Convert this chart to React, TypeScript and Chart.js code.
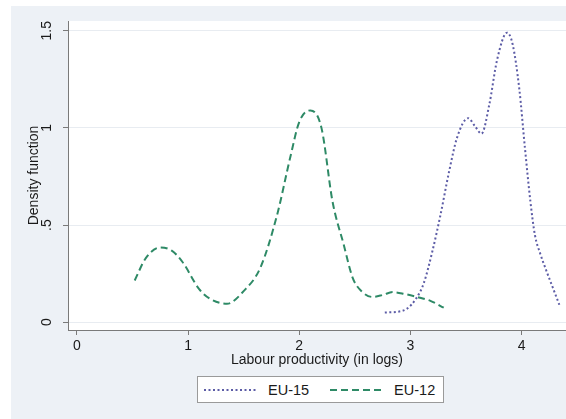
import React, { useEffect, useRef } from "react";
import { Chart, registerables } from "chart.js";

Chart.register(...registerables);

const eu15X = [2.77, 2.9, 2.97, 3.05, 3.12, 3.2, 3.27, 3.35, 3.42, 3.52, 3.58, 3.64, 3.71, 3.78, 3.87, 3.92, 3.98, 4.03, 4.08, 4.12, 4.17, 4.22, 4.28, 4.34];
const eu15Y = [0.05, 0.055, 0.07, 0.12, 0.2, 0.37, 0.55, 0.78, 0.95, 1.05, 1.01, 0.97, 1.12, 1.35, 1.49, 1.43, 1.2, 0.9, 0.62, 0.45, 0.35, 0.27, 0.18, 0.09];

const eu12X = [0.52, 0.62, 0.75, 0.85, 0.95, 1.1, 1.2, 1.35, 1.5, 1.65, 1.8, 1.92, 2.0, 2.1, 2.2, 2.3, 2.4, 2.48, 2.56, 2.66, 2.75, 2.84, 2.95, 3.06, 3.18, 3.3];
const eu12Y = [0.215, 0.33, 0.385, 0.37, 0.31, 0.17, 0.12, 0.095, 0.16, 0.28, 0.55, 0.85, 1.03, 1.09, 1.0, 0.62, 0.4, 0.23, 0.16, 0.13, 0.14, 0.155, 0.145, 0.13, 0.11, 0.075];

const xTicks = [0, 1, 2, 3, 4];
const xTickLabels = ["0", "1", "2", "3", "4"];
const yTicks = [0, 0.5, 1, 1.5];
const yTickLabels = ["0", ".5", "1", "1.5"];

const seriesNames = ["EU-15", "EU-12"];
const colors = ["#5c5ca6", "#2e8a66"];

const FONT = "'Liberation Sans', Arial, sans-serif";
const TEXT = "#1a1a1a";

export default function App() {
  const ref = useRef<HTMLCanvasElement | null>(null);

  useEffect(() => {
    if (!ref.current) return;
    const bgPlugin = {
      id: "bg",
      beforeDraw(chart: any) {
        const { ctx, chartArea, width, height } = chart;
        ctx.save();
        ctx.fillStyle = "#ffffff";
        ctx.fillRect(0, 0, width, height);
        ctx.fillStyle = "#edf1f6";
        ctx.fillRect(11, 6, width - 11, height - 6);
        ctx.fillStyle = "#ffffff";
        ctx.fillRect(chartArea.left, chartArea.top, chartArea.right - chartArea.left, chartArea.bottom - chartArea.top);
        ctx.restore();
      },
    };
    const chart = new Chart(ref.current, {
      type: "scatter",
      data: {
        datasets: [
          {
            label: seriesNames[0],
            data: eu15X.map((x, i) => ({ x, y: eu15Y[i] })),
            showLine: true,
            borderColor: colors[0],
            borderWidth: 2,
            borderDash: [2, 2.5],
            pointRadius: 0,
            tension: 0.4,
            cubicInterpolationMode: "monotone",
          },
          {
            label: seriesNames[1],
            data: eu12X.map((x, i) => ({ x, y: eu12Y[i] })),
            showLine: true,
            borderColor: colors[1],
            borderWidth: 2,
            borderDash: [7, 4],
            pointRadius: 0,
            tension: 0.4,
            cubicInterpolationMode: "monotone",
          },
        ],
      },
      options: {
        animation: false,
        responsive: false,
        devicePixelRatio: 1,
        layout: { padding: { top: 21, bottom: 50, left: 0, right: 0 } },
        plugins: { legend: { display: false }, tooltip: { enabled: false } },
        scales: {
          x: {
            type: "linear",
            min: -0.08,
            max: 4.4,
            afterFit: (s: any) => {
              s.height = 39;
            },
            afterBuildTicks: (s: any) => {
              s.ticks = xTicks.map((v) => ({ value: v }));
            },
            border: { display: true, color: "#7a7a7a", width: 1 },
            grid: { drawOnChartArea: false, drawTicks: true, tickLength: 5, tickColor: "#7a7a7a" },
            ticks: {
              autoSkip: false,
              maxRotation: 0,
              padding: 3,
              color: TEXT,
              font: { family: FONT, size: 14 },
              callback: (v: any) => xTickLabels[xTicks.indexOf(Number(v))] ?? "",
            },
            title: {
              display: true,
              text: "Labour productivity (in logs)",
              color: TEXT,
              font: { family: FONT, size: 14 },
              padding: { top: 0, bottom: 0 },
            },
          },
          y: {
            type: "linear",
            min: -0.04,
            max: 1.55,
            afterFit: (s: any) => {
              s.width = 68;
            },
            afterBuildTicks: (s: any) => {
              s.ticks = yTicks.map((v) => ({ value: v }));
            },
            border: { display: true, color: "#7a7a7a", width: 1 },
            grid: { drawOnChartArea: true, color: "#e8ecf1", drawTicks: true, tickLength: 5, tickColor: "#7a7a7a" },
            ticks: {
              autoSkip: false,
              minRotation: 90,
              maxRotation: 90,
              crossAlign: "center",
              padding: 6,
              color: TEXT,
              font: { family: FONT, size: 14 },
              callback: (v: any) => yTickLabels[yTicks.indexOf(Number(v))] ?? "",
            },
            title: {
              display: true,
              text: "Density function",
              color: TEXT,
              font: { family: FONT, size: 14 },
              padding: { top: 26, bottom: 0 },
            },
          },
        },
      },
      plugins: [bgPlugin],
    } as any);
    return () => chart.destroy();
  }, []);

  const legendItem = (i: number) => (
    <div style={{ display: "flex", alignItems: "center" }}>
      <svg width="54" height="6" style={{ display: "block" }}>
        <line
          x1="0"
          y1="3"
          x2="54"
          y2="3"
          stroke={colors[i]}
          strokeWidth="2"
          strokeDasharray={i === 0 ? "2 2.5" : "7 4"}
        />
      </svg>
      <span style={{ marginLeft: 10, fontFamily: FONT, fontSize: 14.5, color: TEXT }}>{seriesNames[i]}</span>
    </div>
  );

  return (
    <div style={{ position: "fixed", left: 0, top: 0, width: 566, height: 419, overflow: "hidden" }}>
      <canvas ref={ref} width={566} height={419} style={{ display: "block" }} />
      <div
        style={{
          position: "absolute",
          left: 197,
          top: 376,
          width: 239,
          height: 25,
          border: "1px solid #9a9a9a",
          background: "#fff",
          display: "flex",
          alignItems: "center",
          paddingLeft: 6,
          boxSizing: "content-box",
          gap: 21,
        }}
      >
        {legendItem(0)}
        {legendItem(1)}
      </div>
    </div>
  );
}
